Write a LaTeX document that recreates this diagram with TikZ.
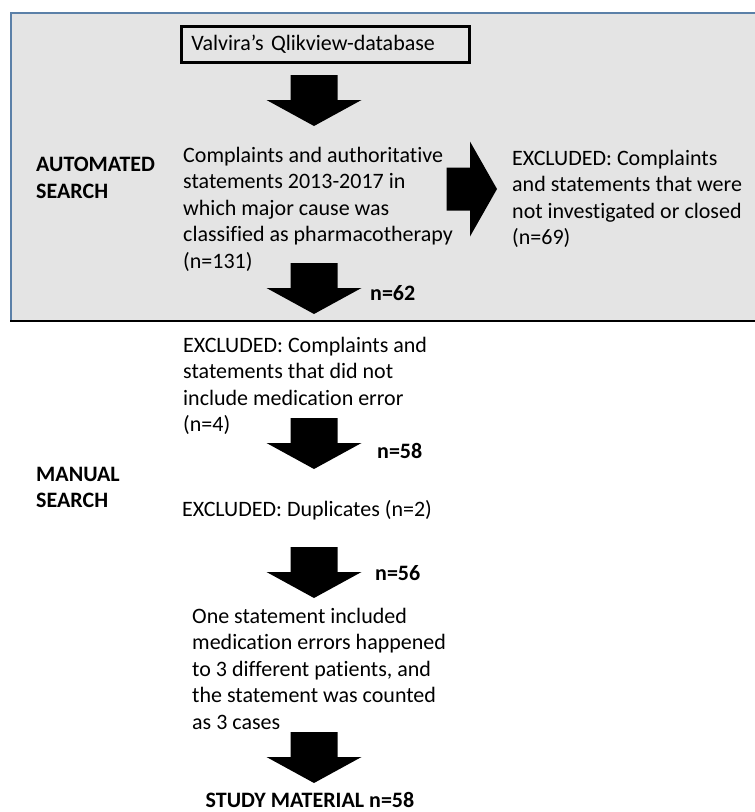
\documentclass[tikz,border=0pt]{standalone}
\usepackage{fontspec}
\setmainfont{Carlito}[Ligatures=NoCommon]
\definecolor{panelgray}{RGB}{228,228,228}
\definecolor{panelblue}{RGB}{91,128,168}
\tikzset{
  downblock/.pic={\fill (-23.5,0) -- (23.5,0) -- (23.5,25) -- (47.5,25) -- (0,51) -- (-47.5,25) -- (-23.5,25) -- cycle;},
  rightblock/.pic={\fill (0,-21.5) -- (23.3,-21.5) -- (23.3,-47.5) -- (50.3,0) -- (23.3,47.5) -- (23.3,21.5) -- (0,21.5) -- cycle;}
}
\begin{document}
\begin{tikzpicture}[x=1pt, y=-1pt, font=\fontsize{22}{26.5}\selectfont,
    txt/.style={anchor=base west, align=left, inner sep=0pt},
    hdr/.style={txt, font=\fontsize{22}{26.5}\selectfont\bfseries}]
    \useasboundingbox (0,0) rectangle (755,812);

    % automated search panel
    \fill[panelgray] (11,13) rectangle (755,321);
    \draw[panelblue, line width=2pt] (11,321) -- (11,13) -- (755,13);
    \draw[line width=2.7pt] (10,321) -- (755,321);

    \node[draw, line width=2.7pt, fill=panelgray, anchor=north west, minimum height=36.3pt,
          text width=268pt, inner xsep=10pt, align=left] (DB) at (180, 25) {Valvira’s Qlikview-database};

    % base anchor sits on the last line
    \node[hdr] (AUT) at (36, 198.2) {AUTOMATED\\SEARCH};
    \node[txt] (ALL) at (183, 268) {Complaints and authoritative\\statements 2013-2017 in\\which major cause was\\classified as pharmacotherapy\\(n=131)};
    \node[txt] (EXA) at (512, 244.5) {EXCLUDED: Complaints\\and statements that were\\not investigated or closed\\(n=69)};
    \node[hdr] (N1) at (370, 300) {n=62};

    % manual search
    \node[txt] (EXB) at (183, 431.5) {EXCLUDED: Complaints and\\statements that did not\\include medication error\\(n=4)};
    \node[hdr] (N2) at (377, 458) {n=58};
    \node[hdr] (MAN) at (36, 507.5) {MANUAL\\SEARCH};
    \node[txt] (DUP) at (182, 516) {EXCLUDED: Duplicates (n=2)};
    \node[hdr] (N3) at (375, 580) {n=56};
    \node[txt] (ONE) at (192, 729) {One statement included\\medication errors happened\\to 3 different patients, and\\the statement was counted\\as 3 cases};
    \node[hdr, anchor=base] (END) at (310, 807) {STUDY MATERIAL n=58};

    \pic at (314, 75) {downblock};
    \pic at (446.7, 189) {rightblock};
    \pic at (314, 263) {downblock};
    \pic at (314, 418) {downblock};
    \pic at (314, 547) {downblock};
    \pic at (314, 732) {downblock};
\end{tikzpicture}
\end{document}
